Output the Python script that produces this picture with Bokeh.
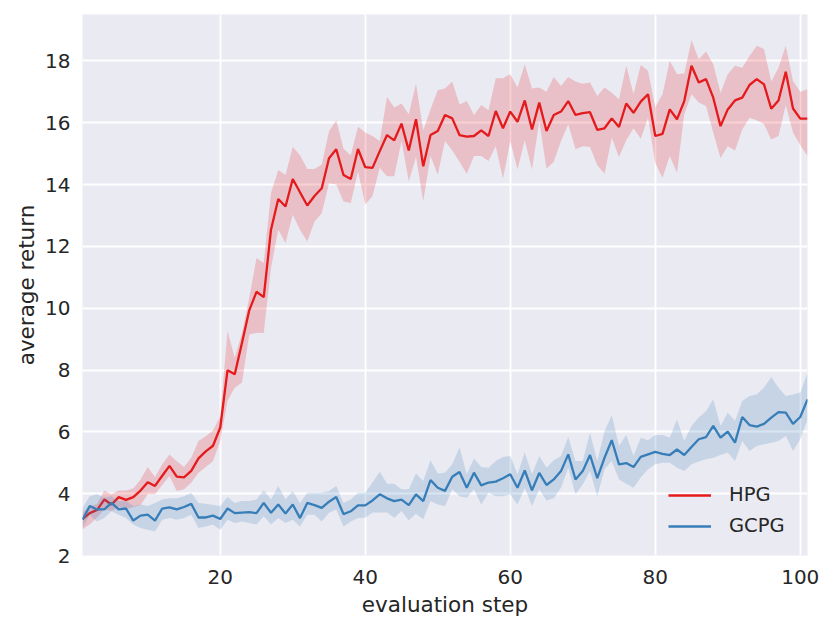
from bokeh.plotting import figure
from bokeh.models import Range1d, FixedTicker
from bokeh.embed import file_html
from bokeh.resources import INLINE

steps = list(range(1, 102))
x_ticks = [20, 40, 60, 80, 100]
y_ticks = [2, 4, 6, 8, 10, 12, 14, 16, 18]

hpg_mean = [3.18, 3.37, 3.47, 3.81, 3.65, 3.89, 3.80, 3.89, 4.10, 4.37,
            4.25, 4.58, 4.90, 4.55, 4.53, 4.74, 5.14, 5.37, 5.55, 6.14,
            7.99, 7.86, 8.88, 9.93, 10.53, 10.36, 12.54, 13.53, 13.29, 14.18,
            13.75, 13.32, 13.63, 13.88, 14.85, 15.14, 14.31, 14.18, 15.15, 14.56,
            14.54, 15.08, 15.60, 15.43, 15.97, 15.10, 16.11, 14.59, 15.60, 15.73,
            16.25, 16.14, 15.60, 15.55, 15.57, 15.75, 15.57, 16.38, 15.82, 16.36,
            16.03, 16.72, 15.78, 16.65, 15.73, 16.25, 16.36, 16.70, 16.25, 16.31,
            16.34, 15.77, 15.82, 16.14, 15.86, 16.62, 16.32, 16.68, 16.92, 15.57,
            15.64, 16.43, 16.11, 16.70, 17.84, 17.30, 17.41, 16.81, 15.89, 16.43,
            16.72, 16.81, 17.22, 17.41, 17.24, 16.45, 16.72, 17.65, 16.46, 16.13,
            16.13]
hpg_lo = [2.85, 3.00, 3.23, 3.50, 3.44, 3.57, 3.50, 3.57, 3.63, 3.98,
          3.98, 4.28, 4.57, 4.09, 4.14, 4.35, 4.68, 4.86, 5.05, 5.70,
          7.00, 7.43, 7.60, 9.15, 9.20, 9.20, 11.30, 12.54, 12.11, 13.02,
          12.54, 12.16, 12.80, 13.07, 14.04, 14.00, 13.45, 13.40, 14.42, 13.35,
          13.62, 14.54, 14.27, 14.27, 15.41, 14.11, 14.89, 13.46, 14.92, 14.32,
          15.41, 15.10, 14.74, 14.35, 14.92, 14.92, 14.76, 15.24, 14.19, 15.41,
          14.49, 15.43, 14.49, 16.05, 14.51, 14.74, 15.41, 15.95, 15.14, 15.24,
          15.21, 14.63, 14.35, 15.51, 14.89, 15.43, 15.82, 15.48, 16.16, 14.70,
          14.22, 14.92, 14.38, 16.27, 16.92, 16.65, 16.54, 15.68, 14.86, 15.24,
          15.10, 15.78, 16.16, 16.08, 15.95, 15.46, 15.57, 16.57, 15.68, 15.28,
          14.92]
hpg_hi = [3.39, 3.60, 3.66, 4.10, 3.98, 4.10, 4.10, 4.17, 4.46, 4.86,
          4.54, 4.95, 5.27, 5.05, 4.86, 5.16, 5.70, 5.86, 6.04, 6.50,
          9.26, 8.40, 9.20, 10.33, 11.62, 11.46, 13.72, 14.47, 14.31, 15.22,
          14.95, 14.50, 14.50, 14.65, 15.72, 16.08, 15.16, 14.95, 15.87, 15.68,
          15.57, 15.41, 16.83, 16.49, 16.62, 16.27, 17.26, 15.75, 16.43, 17.05,
          17.11, 17.33, 16.59, 16.70, 16.25, 16.57, 16.40, 17.44, 17.44, 17.57,
          17.14, 17.89, 17.11, 17.14, 17.00, 17.48, 17.19, 17.48, 17.33, 17.26,
          17.30, 16.86, 17.14, 16.97, 16.76, 17.84, 16.92, 17.87, 17.68, 16.50,
          16.92, 18.00, 17.57, 17.59, 18.67, 18.05, 18.30, 17.89, 16.97, 17.57,
          17.84, 17.78, 18.16, 18.49, 18.38, 17.33, 17.78, 18.49, 17.35, 17.00,
          17.08]

gcpg_mean = [3.16, 3.60, 3.49, 3.49, 3.70, 3.49, 3.52, 3.13, 3.29, 3.32,
             3.13, 3.52, 3.56, 3.49, 3.57, 3.67, 3.23, 3.23, 3.29, 3.18,
             3.52, 3.37, 3.39, 3.40, 3.37, 3.70, 3.38, 3.65, 3.36, 3.65,
             3.21, 3.70, 3.63, 3.54, 3.74, 3.89, 3.34, 3.43, 3.62, 3.62,
             3.78, 3.98, 3.85, 3.76, 3.81, 3.63, 3.98, 3.76, 4.44, 4.19,
             4.09, 4.55, 4.70, 4.19, 4.68, 4.27, 4.36, 4.39, 4.50, 4.63,
             4.19, 4.75, 4.11, 4.67, 4.28, 4.46, 4.73, 5.27, 4.46, 4.73,
             5.25, 4.50, 5.16, 5.73, 4.95, 4.99, 4.86, 5.19, 5.27, 5.35,
             5.29, 5.25, 5.43, 5.25, 5.51, 5.76, 5.83, 6.19, 5.81, 6.01,
             5.65, 6.48, 6.22, 6.17, 6.26, 6.46, 6.64, 6.62, 6.26, 6.48,
             7.05]
gcpg_lo = [2.89, 3.32, 3.10, 3.21, 3.43, 3.32, 3.21, 3.00, 2.89, 2.83,
           2.78, 3.16, 3.21, 3.16, 3.21, 3.32, 2.89, 2.94, 3.00, 2.83,
           3.16, 3.05, 3.10, 3.05, 3.00, 3.27, 3.00, 3.21, 3.05, 3.16,
           2.94, 3.32, 3.32, 3.10, 3.38, 3.49, 2.94, 3.10, 3.21, 3.22,
           3.39, 3.39, 3.39, 3.22, 3.44, 3.14, 3.35, 3.17, 3.76, 3.65,
           3.60, 4.14, 3.92, 3.87, 4.14, 3.65, 4.03, 3.92, 3.92, 3.98,
           3.65, 4.19, 3.60, 4.14, 3.78, 3.85, 4.19, 4.84, 3.98, 4.30,
           4.73, 3.92, 4.79, 5.06, 4.46, 4.32, 4.19, 4.52, 4.79, 4.95,
           5.00, 5.00, 4.84, 4.73, 4.95, 5.04, 5.11, 5.16, 5.25, 5.33,
           5.06, 5.70, 5.38, 5.54, 5.60, 5.65, 5.70, 5.87, 5.38, 5.76,
           6.40]
gcpg_hi = [3.54, 3.92, 3.98, 3.87, 3.92, 3.76, 3.76, 3.60, 3.65, 3.60,
           3.70, 3.81, 3.85, 3.85, 3.92, 4.03, 3.70, 3.67, 3.63, 3.60,
           3.89, 3.70, 3.76, 3.76, 3.81, 4.11, 3.81, 4.25, 3.81, 4.09,
           3.70, 4.03, 4.03, 4.03, 4.09, 4.25, 3.70, 3.81, 4.03, 4.03,
           4.36, 4.71, 4.32, 4.32, 4.14, 4.14, 4.65, 4.41, 5.08, 4.65,
           4.68, 4.95, 5.49, 4.63, 5.14, 4.86, 4.84, 5.06, 5.19, 5.22,
           4.63, 5.33, 4.63, 5.22, 4.84, 5.08, 5.22, 5.83, 5.06, 5.06,
           5.97, 5.06, 6.01, 6.54, 5.54, 5.90, 5.22, 5.81, 5.73, 5.90,
           5.90, 5.81, 6.40, 5.70, 6.19, 6.46, 6.67, 7.05, 6.19, 6.62,
           6.35, 7.00, 7.16, 7.21, 7.43, 7.77, 7.43, 7.16, 7.21, 7.27,
           7.91]

RED = "#e41a1c"
BLUE = "#377eb8"
FONT = "DejaVu Sans"
TXT = "#262626"

p = figure(width=823, height=625, x_range=Range1d(1, 101), y_range=Range1d(2, 19.5),
           output_backend="svg", toolbar_location=None,
           min_border_left=82, min_border_right=16, min_border_top=14, min_border_bottom=70)
p.background_fill_color = "#EAEAF2"
p.border_fill_color = "white"
p.outline_line_color = None

p.xaxis.ticker = FixedTicker(ticks=x_ticks)
p.yaxis.ticker = FixedTicker(ticks=y_ticks)
for g in (p.xgrid, p.ygrid):
    g.grid_line_color = "white"
    g.grid_line_width = 1.8
for ax in (p.xaxis, p.yaxis):
    ax.axis_line_color = None
    ax.major_tick_line_color = None
    ax.minor_tick_line_color = None
    ax.major_tick_out = 0
    ax.major_tick_in = 0
    ax.minor_tick_out = 0
    ax.minor_tick_in = 0
    ax.major_label_text_font = FONT
    ax.major_label_text_font_size = "20px"
    ax.major_label_text_color = TXT
    ax.axis_label_text_font = FONT
    ax.axis_label_text_font_size = "21.5px"
    ax.axis_label_text_font_style = "normal"
    ax.axis_label_text_color = TXT
p.xaxis.major_label_standoff = 14
p.yaxis.major_label_standoff = 12
p.xaxis.axis_label_standoff = 5
p.yaxis.axis_label_standoff = 3
p.xaxis.axis_label = "evaluation step"
p.yaxis.axis_label = "average return"

p.varea(x=steps, y1=hpg_lo, y2=hpg_hi, fill_color=RED, fill_alpha=0.2)
p.line(steps, hpg_mean, line_color=RED, line_width=2.3, legend_label="HPG")
p.varea(x=steps, y1=gcpg_lo, y2=gcpg_hi, fill_color=BLUE, fill_alpha=0.2)
p.line(steps, gcpg_mean, line_color=BLUE, line_width=2.3, legend_label="GCPG")

lg = p.legend[0]
lg.location = (586, 18)
lg.padding = 0
lg.margin = 0
lg.spacing = 8
lg.glyph_width = 43
lg.label_standoff = 18
lg.border_line_alpha = 0
lg.background_fill_alpha = 0
lg.label_text_font = FONT
lg.label_text_font_size = "19.5px"
lg.label_text_color = TXT

open("out.html", "w").write(file_html(p, INLINE))
